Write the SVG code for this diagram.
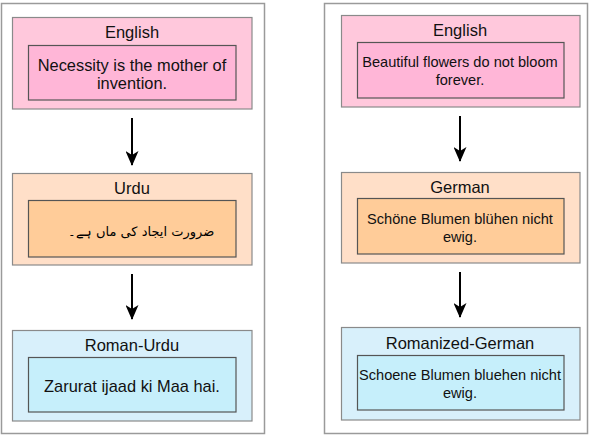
<svg xmlns="http://www.w3.org/2000/svg" width="590" height="436" viewBox="0 0 590 436">
<defs>
<style>
text{font-family:"Liberation Sans",Arial,sans-serif;fill:#111;text-anchor:middle}
.panel{fill:#fff;stroke:#9a9a9a;stroke-width:1.5}
.o{stroke:#8a8a8a;stroke-width:1.2}
.i{stroke:#555;stroke-width:1.2}
.pk1{fill:#ffc8dc}.pk2{fill:#ffb6d7}
.or1{fill:#ffdfc8}.or2{fill:#ffcc99}
.bl1{fill:#d8f0fb}.bl2{fill:#c6effb}
.t{font-size:16.5px}
.s{font-size:16.4px}
.r{font-size:14.6px}
.u{font-family:"DejaVu Sans",sans-serif;font-size:13px;fill:#000}
.c{stroke:#000;stroke-width:2;fill:none}
</style>
<marker id="ah" markerWidth="15" markerHeight="13" refX="14" refY="6.5" orient="auto" markerUnits="userSpaceOnUse" viewBox="0 0 15 13">
<path d="M0,0 L15,6.5 L0,13 L4,6.5 Z" fill="#000"/>
</marker>
</defs>
<rect class="panel" x="1.5" y="3.5" width="263" height="430"/>
<rect class="panel" x="324.5" y="3.5" width="263" height="430"/>

<g id="l-english">
<rect class="o pk1" x="12.5" y="17.5" width="239.5" height="91.5"/>
<text class="t" x="132" y="38">English</text>
<rect class="i pk2" x="28.5" y="45.5" width="207.5" height="54.5"/>
<text class="s" x="132" y="71">Necessity is the mother of</text>
<text class="s" x="132" y="89">invention.</text>
</g>
<g id="l-urdu">
<rect class="o or1" x="12.5" y="173.5" width="239.5" height="91.5"/>
<text class="t" x="132" y="194">Urdu</text>
<rect class="i or2" x="28.5" y="200.5" width="207.5" height="56.5"/>
<text class="u" x="141" y="236" direction="rtl">ضرورت ایجاد کی ماں ہے۔</text>
</g>
<g id="l-roman">
<rect class="o bl1" x="12.5" y="330.5" width="239.5" height="90.5"/>
<text class="t" x="132" y="351">Roman-Urdu</text>
<rect class="i bl2" x="28.5" y="357.5" width="207.5" height="54.5"/>
<text class="s" x="132" y="392">Zarurat ijaad ki Maa hai.</text>
</g>

<g id="r-english">
<rect class="o pk1" x="341.5" y="15.5" width="238.5" height="91.5"/>
<text class="t" x="460" y="36">English</text>
<rect class="i pk2" x="357.5" y="42.5" width="206.5" height="55.5"/>
<text class="r" x="460" y="67">Beautiful flowers do not bloom</text>
<text class="r" x="460" y="85">forever.</text>
</g>
<g id="r-german">
<rect class="o or1" x="341.5" y="172.5" width="238.5" height="90.5"/>
<text class="t" x="460" y="193">German</text>
<rect class="i or2" x="357.5" y="198.5" width="206.5" height="55.5"/>
<text class="r" x="460" y="224">Schöne Blumen blühen nicht</text>
<text class="r" x="460" y="242">ewig.</text>
</g>
<g id="r-roman">
<rect class="o bl1" x="341.5" y="327.5" width="238.5" height="92.5"/>
<text class="t" x="460" y="349">Romanized-German</text>
<rect class="i bl2" x="357.5" y="355.5" width="206.5" height="54.5"/>
<text class="r" x="460" y="380">Schoene Blumen bluehen nicht</text>
<text class="r" x="460" y="398">ewig.</text>
</g>

<g id="connectors">
<path class="c" d="M132,118 V165" marker-end="url(#ah)"/>
<path class="c" d="M132,274 V319" marker-end="url(#ah)"/>
<path class="c" d="M460,116 V161" marker-end="url(#ah)"/>
<path class="c" d="M460,272 V317" marker-end="url(#ah)"/>
</g>
</svg>
